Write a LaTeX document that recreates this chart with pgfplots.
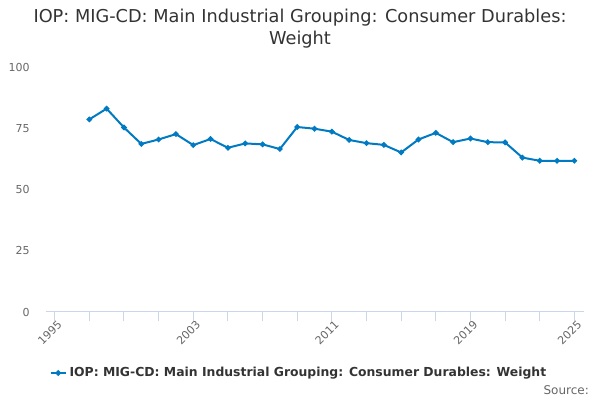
\documentclass[border=0pt]{standalone}
\usepackage{pgfplots}
\pgfplotsset{compat=1.18}
\usepackage{fontspec}
\setmainfont{DejaVu Sans}
\definecolor{series}{RGB}{0,122,194}
\definecolor{gridc}{RGB}{230,230,230}
\definecolor{axisc}{RGB}{204,214,235}
\definecolor{titlec}{RGB}{51,51,51}
\definecolor{tickc}{RGB}{102,102,102}
\begin{document}
\begin{tikzpicture}
\path (0pt,0pt) rectangle (450pt,300pt);
\begin{axis}[
  at={(34.5pt,66.5pt)}, anchor=south west,
  scale only axis,
  width=403.3pt, height=183.6pt,
  xmin=1994.5, xmax=2025.54,
  ymin=0, ymax=100,
  axis x line*=bottom,
  axis y line=none,
  x axis line style={color=axisc, line width=0.75pt, -},
  xtick={1995,2003,2011,2019,2025},
  xticklabels={1995,2003,2011,2019,2025},
  minor xtick={1997,1999,2001,2005,2007,2009,2013,2015,2017,2021,2023},
  xtick style={color=axisc, line width=0.75pt},
  minor x tick style={color=axisc, line width=0.75pt},
  tick align=outside,
  major tick length=7.5pt,
  minor tick length=7.5pt,
  xticklabel style={rotate=45, anchor=east, inner sep=0pt, xshift=2pt, yshift=-3.5pt, font=\fontsize{8.25pt}{10pt}\selectfont, text=tickc},
  ytick={0,25,50,75,100},
  ymajorgrids,
  grid style={color=gridc, line width=0.75pt},
  clip=false,
  legend style={at={(rel axis cs:0.471,-0.252)}, anchor=center, draw=none, fill=none,
    font=\fontsize{9.3pt}{11pt}\selectfont\bfseries, text=titlec, inner sep=0pt,
    legend cell align=left},
  legend image code/.code={\draw[mark repeat=2,mark phase=2] plot coordinates {(0cm,0cm) (0.2cm,0cm) (0.4cm,0cm)};},
]
\addplot[color=series, line width=1.5pt, mark=*, mark size=1.25pt, mark options={solid}] coordinates {
(1997,78.4) (1998,82.8) (1999,75.1) (2000,68.4) (2001,70.2) (2002,72.4)
(2003,67.9) (2004,70.4) (2005,66.8) (2006,68.6) (2007,68.2) (2008,66.3)
(2009,75.3) (2010,74.6) (2011,73.4) (2012,70.0) (2013,68.7) (2014,68.0)
(2015,64.9) (2016,70.2) (2017,72.9) (2018,69.1) (2019,70.6) (2020,69.1)
(2021,69.0) (2022,62.8) (2023,61.5) (2024,61.5) (2025,61.5)
};
\addlegendentry{IOP: MIG-CD: Main Industrial Grouping: Consumer Durables: Weight}
\foreach \v in {0,25,50,75,100} {
  \edef\tmp{\noexpand\node[anchor=east, inner sep=0pt, font=\noexpand\fontsize{8.25pt}{10pt}\noexpand\selectfont, text=tickc] at (axis cs:1994.5,\v) [xshift=-12pt, yshift=-0.5pt] {\v};}
  \tmp
}
\end{axis}
\node[font=\fontsize{13.3pt}{16.5pt}\selectfont, text=titlec, align=center] at (225pt,278.5pt) {IOP: MIG-CD: Main Industrial Grouping: Consumer Durables:\\Weight};
\node[anchor=east, inner sep=0pt, font=\fontsize{9pt}{11pt}\selectfont, text=tickc] at (441.8pt,7.5pt) {Source:};
\end{tikzpicture}
\end{document}
